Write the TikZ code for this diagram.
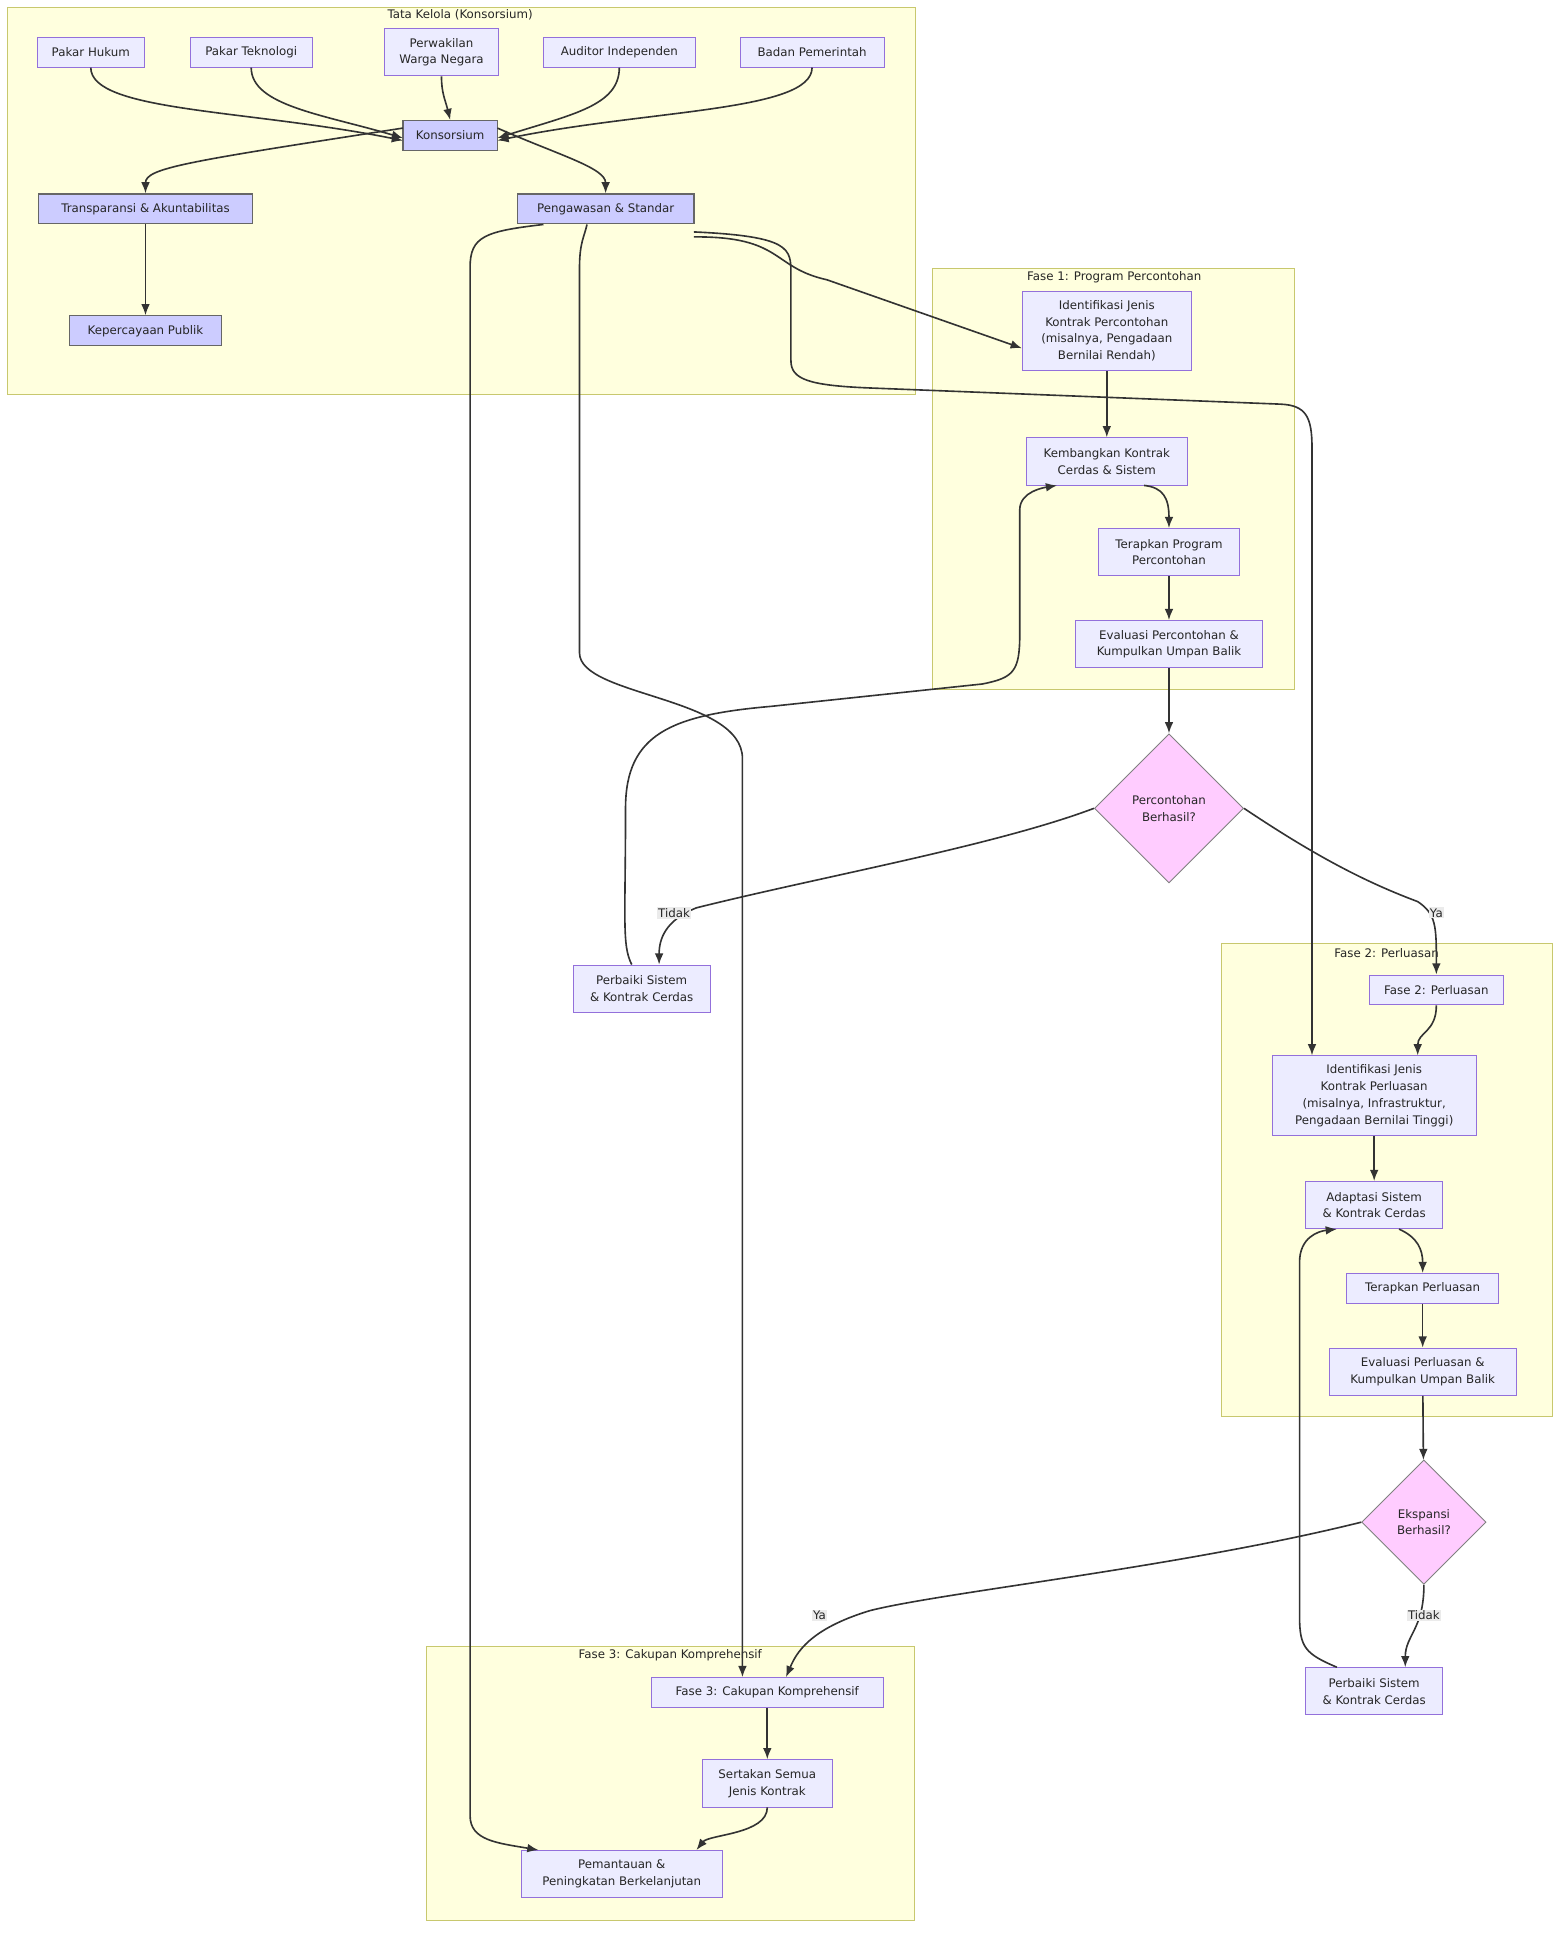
\documentclass[tikz,border=0pt]{standalone}
\usepackage{fontspec}
\setmainfont{DejaVu Sans}
\usetikzlibrary{shapes.geometric,arrows.meta}
\definecolor{nfill}{HTML}{ECECFF}
\definecolor{nline}{HTML}{9370DB}
\definecolor{dfill}{HTML}{CCCCFF}
\definecolor{cfill}{HTML}{FFFFDE}
\definecolor{cline}{HTML}{C8C86E}
\definecolor{pfill}{HTML}{FFCCFF}
\begin{document}
\begin{tikzpicture}[x=1pt,y=-1pt,
  every node/.style={font=\fontsize{9.5}{13.5}\selectfont, text=black!85},
  box/.style={draw=nline, fill=nfill, line width=0.7pt, align=center, inner sep=0pt, minimum height=24pt},
  dbox/.style={box, fill=dfill, draw=black!60, line width=1pt},
  dia/.style={diamond, aspect=1, draw=black!50, fill=pfill, line width=0.7pt, align=center, inner sep=0pt},
  clu/.style={draw=cline, fill=cfill, line width=0.7pt},
  ctitle/.style={inner sep=0pt},
  e/.style={draw=black!80, line width=1.3pt, -{Latex[length=9pt,width=7pt]}},
  lab/.style={fill=black!8, inner sep=1pt}]
\useasboundingbox (0,0) rectangle (1260,1560);
\fill[white] (0,0) rectangle (1260,1560);
% clusters
\draw[clu] (6,6) rectangle (736,317);
\node[ctitle] (t0) at (370,12) {Tata Kelola (Konsorsium)};
\draw[clu] (750,216) rectangle (1041,554);
\node[ctitle] (t1) at (896,223) {Fase 1: Program Percontohan};
\draw[clu] (982,759) rectangle (1248,1139);
\node[ctitle] (t2) at (1115,766) {Fase 2: Perluasan};
\draw[clu] (343,1324) rectangle (735,1544);
\node[ctitle] (t3) at (539,1331) {Fase 3: Cakupan Komprehensif};
% nodes
\node[box, minimum width=86pt] (ph) at (73,42) {Pakar Hukum};
\node[box, minimum width=98pt] (pt) at (202,42) {Pakar Teknologi};
\node[box, minimum width=92pt, minimum height=38pt] (pw) at (355,42) {Perwakilan\\Warga Negara};
\node[box, minimum width=122pt] (ai) at (498,42) {Auditor Independen};
\node[box, minimum width=116pt] (bp) at (653,42) {Badan Pemerintah};
\node[dbox, minimum width=76pt] (ko) at (362,109) {Konsorsium};
\node[dbox, minimum width=172pt] (ta) at (117,168) {Transparansi \& Akuntabilitas};
\node[dbox, minimum width=142pt] (ps) at (487,168) {Pengawasan \& Standar};
\node[dbox, minimum width=122pt] (kp) at (117,266) {Kepercayaan Publik};
\node[box, minimum width=136pt, minimum height=64pt] (i1) at (890,266) {Identifikasi Jenis\\Kontrak Percontohan\\(misalnya, Pengadaan\\Bernilai Rendah)};
\node[box, minimum width=130pt, minimum height=38pt] (k1) at (890,371) {Kembangkan Kontrak\\Cerdas \& Sistem};
\node[box, minimum width=114pt, minimum height=38pt] (tp) at (940,444) {Terapkan Program\\Percontohan};
\node[box, minimum width=150pt, minimum height=38pt] (ev1) at (940,518) {Evaluasi Percontohan \&\\Kumpulkan Umpan Balik};
\node[dia, minimum width=120pt, minimum height=120pt] (d1) at (940,650) {Percontohan\\Berhasil?};
\node[box, minimum width=110pt, minimum height=38pt] (pb1) at (516,795) {Perbaiki Sistem\\\& Kontrak Cerdas};
\node[box, minimum width=108pt] (f2) at (1155,796) {Fase 2: Perluasan};
\node[box, minimum width=164pt, minimum height=64pt] (i2) at (1105,881) {Identifikasi Jenis\\Kontrak Perluasan\\(misalnya, Infrastruktur,\\Pengadaan Bernilai Tinggi)};
\node[box, minimum width=110pt, minimum height=38pt] (ad) at (1105,969) {Adaptasi Sistem\\\& Kontrak Cerdas};
\node[box, minimum width=122pt] (tpl) at (1144,1036) {Terapkan Perluasan};
\node[box, minimum width=150pt, minimum height=38pt] (ev2) at (1144,1103) {Evaluasi Perluasan \&\\Kumpulkan Umpan Balik};
\node[dia, minimum width=100pt, minimum height=100pt] (d2) at (1145,1224) {Ekspansi\\Berhasil?};
\node[box, minimum width=110pt, minimum height=38pt] (pb2) at (1105,1360) {Perbaiki Sistem\\\& Kontrak Cerdas};
\node[box, minimum width=186pt] (f3) at (617,1361) {Fase 3: Cakupan Komprehensif};
\node[box, minimum width=104pt, minimum height=38pt] (sj) at (617,1434) {Sertakan Semua\\Jenis Kontrak};
\node[box, minimum width=162pt, minimum height=38pt] (pm) at (500,1507) {Pemantauan \&\\Peningkatan Berkelanjutan};
% edges
\draw[e] (ph.south) .. controls (73,90) and (200,88) .. ([xshift=-38pt,yshift=-4pt]ko.center);
\draw[e] (pt.south) .. controls (202,85) and (260,92) .. ([xshift=-38pt,yshift=-2pt]ko.center);
\draw[e] (pw.south) .. controls (355,75) and (358,80) .. (ko.north);
\draw[e] (ai.south) .. controls (498,85) and (460,92) .. ([xshift=38pt,yshift=-2pt]ko.center);
\draw[e] (bp.south) .. controls (653,90) and (520,88) .. ([xshift=38pt,yshift=-4pt]ko.center);
\draw[e] ([xshift=-38pt,yshift=6pt]ko.center) .. controls (150,130) and (117,135) .. (ta.north);
\draw[e] ([xshift=38pt,yshift=6pt]ko.center) .. controls (450,125) and (487,135) .. (ps.north);
\draw[e] (ta) -- (kp);
\draw[e] ([xshift=71pt,yshift=-10pt]ps.south) .. controls (630,190) and (620,215) .. (665,225) -- ([yshift=-14pt]i1.west);
\draw[e] ([xshift=71pt,yshift=-6pt]ps.south) .. controls (636,190) and (636,200) .. (636,220) -- (636,290) .. controls (636,305) and (650,310) .. (700,312) -- (1030,325) .. controls (1050,326) and (1055,335) .. (1055,360) -- ([xshift=-50pt]i2.north);
\draw[e] ([xshift=-15pt]ps.south) .. controls (470,190) and (466,195) .. (466,215) -- (466,525) .. controls (466,560) and (597,560) .. (597,610) -- ([xshift=-20pt]f3.north);
\draw[e] ([xshift=-50pt]ps.south) .. controls (390,186) and (378,190) .. (378,215) -- (378,1460) .. controls (378,1480) and (400,1482) .. ([xshift=-67pt]pm.north);
\draw[e] (i1) -- (k1);
\draw[e] ([xshift=30pt]k1.south) .. controls (935,392) and (940,400) .. (tp.north);
\draw[e] (tp) -- (ev1);
\draw[e] (ev1) -- (d1);
\draw[e] (d1.west) .. controls (800,680) and (660,705) .. (560,730) .. controls (535,740) and (530,755) .. ([xshift=14pt]pb1.north);
\node[lab] (lt1) at (542,734) {Tidak};
\draw[e] (d1.east) .. controls (1060,690) and (1100,710) .. (1140,725) .. controls (1155,735) and (1155,745) .. (f2.north);
\node[lab] (ly1) at (1155,734) {Ya};
\draw[e] ([xshift=-8pt]pb1.north) .. controls (500,760) and (503,740) .. (503,650) .. controls (503,590) and (540,575) .. (620,568) -- (790,550) .. controls (815,545) and (820,540) .. (820,510) -- (820,410) .. controls (820,395) and (840,392) .. ([xshift=-40pt]k1.south);
\draw[e] (f2.south) .. controls (1155,830) and (1140,830) .. ([xshift=35pt]i2.north);
\draw[e] (i2) -- (ad);
\draw[e] ([xshift=20pt]ad.south) .. controls (1140,995) and (1144,1005) .. (tpl.north);
\draw[e] (tpl) -- (ev2);
\draw[e] (ev2) -- (d2);
\draw[e] (d2.west) .. controls (950,1260) and (760,1280) .. (700,1295) .. controls (650,1310) and (640,1330) .. ([xshift=15pt]f3.north);
\node[lab] (ly2) at (659,1299) {Ya};
\draw[e] (d2.south) .. controls (1145,1310) and (1130,1315) .. ([xshift=25pt]pb2.north);
\node[lab] (lt2) at (1145,1299) {Tidak};
\draw[e] ([xshift=-30pt]pb2.north) .. controls (1050,1330) and (1045,1325) .. (1045,1300) -- (1045,1015) .. controls (1045,995) and (1060,990) .. ([xshift=-30pt]ad.south);
\draw[e] (f3) -- (sj);
\draw[e] (sj.south) .. controls (617,1475) and (570,1475) .. ([xshift=60pt]pm.north);
\end{tikzpicture}
\end{document}
